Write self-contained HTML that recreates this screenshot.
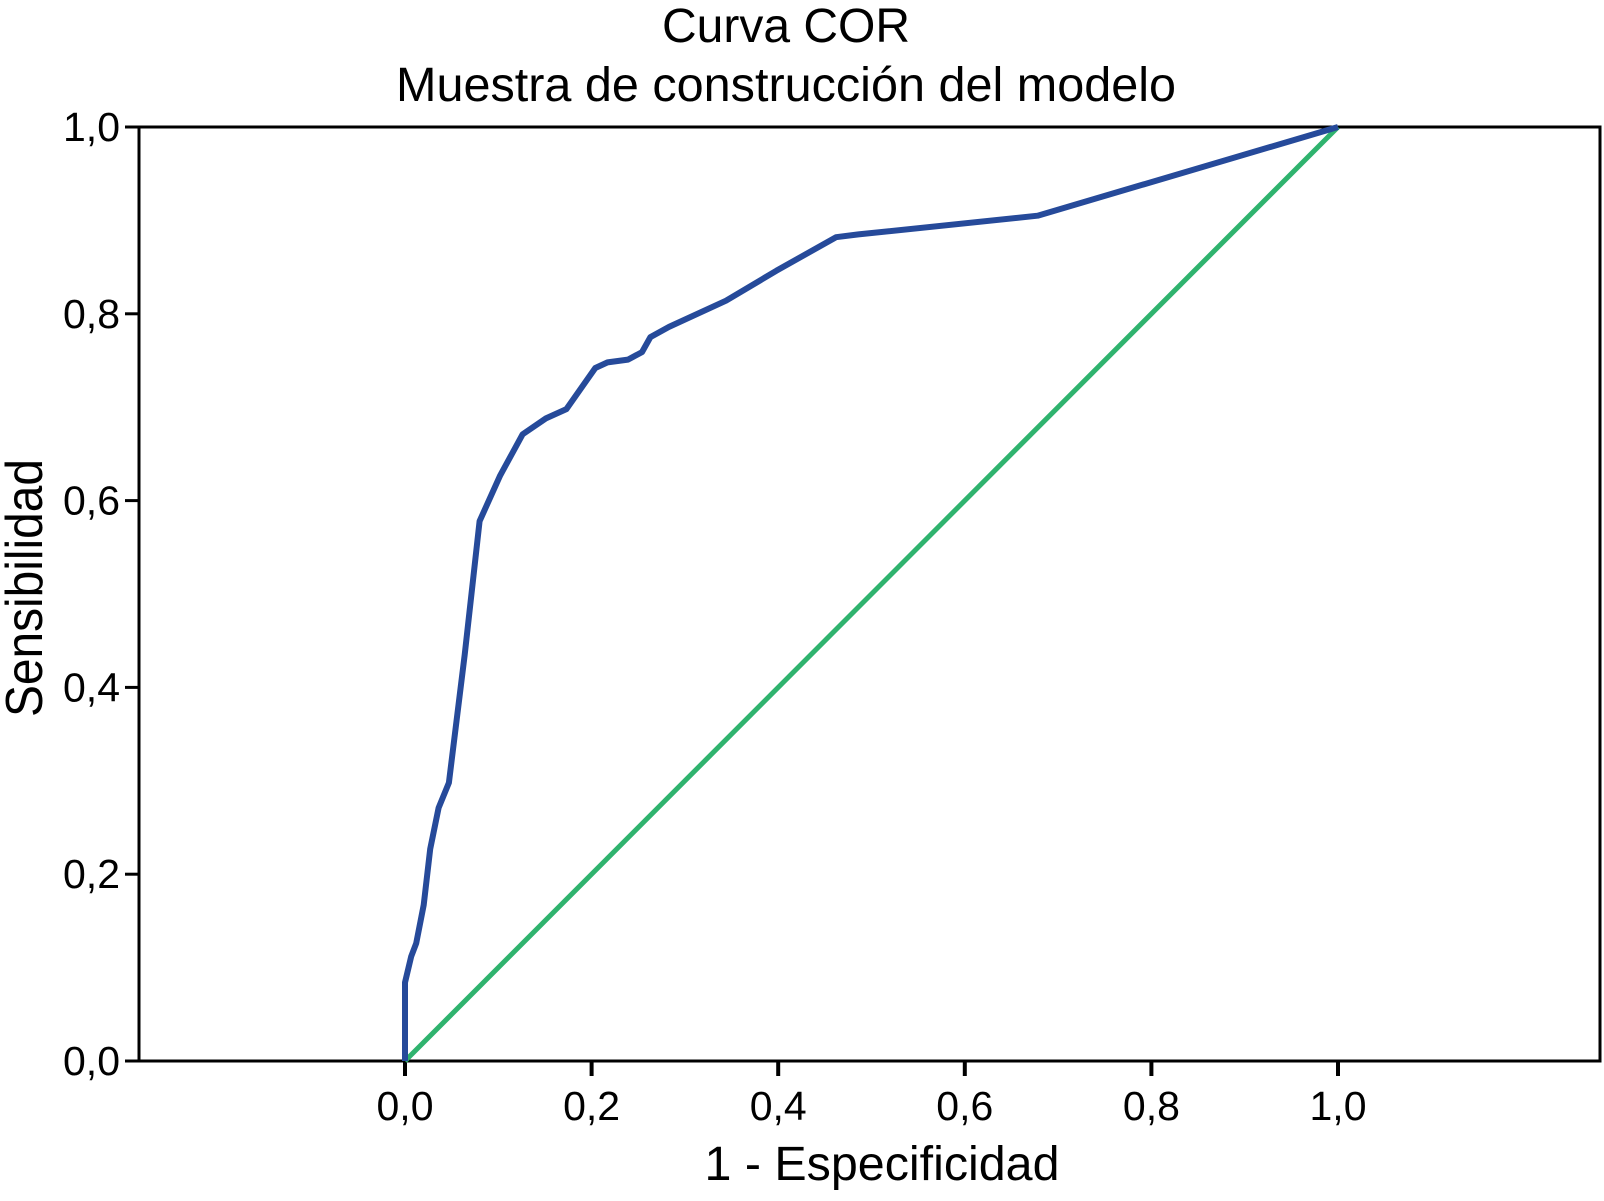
<!DOCTYPE html>
<html><head><meta charset="utf-8"><style>
html,body{margin:0;padding:0;background:#fff;}
svg{display:block;font-family:"Liberation Sans",Arial,sans-serif;}
</style></head><body>
<svg id="chart" width="1604" height="1201" viewBox="0 0 1604 1201">
<text x="786" y="42" font-size="48" text-anchor="middle">Curva COR</text>
<text x="786" y="101" font-size="48" text-anchor="middle" textLength="780" lengthAdjust="spacingAndGlyphs">Muestra de construcción del modelo</text>
<rect x="139" y="127" width="1461" height="934" fill="none" stroke="#000" stroke-width="3"/>
<g id="axes"></g>
<g id="series"></g>
<text x="882" y="1180" font-size="48" text-anchor="middle" textLength="355" lengthAdjust="spacingAndGlyphs">1 - Especificidad</text>
<text transform="translate(42,588) rotate(-90)" font-size="52" text-anchor="middle" textLength="258" lengthAdjust="spacingAndGlyphs">Sensibilidad</text>
</svg>
<script>
const tickValues = [0, 0.2, 0.4, 0.6, 0.8, 1.0];
const tickLabels = ["0,0", "0,2", "0,4", "0,6", "0,8", "1,0"];
const rocFpr = [0, 0, 0.0066, 0.012, 0.020, 0.027, 0.036, 0.047, 0.064, 0.080, 0.102, 0.126, 0.151, 0.173, 0.204, 0.217, 0.239, 0.254, 0.263, 0.283, 0.344, 0.398, 0.462, 0.486, 0.678, 1.0];
const rocTpr = [0, 0.084, 0.112, 0.126, 0.167, 0.227, 0.271, 0.298, 0.435, 0.578, 0.627, 0.671, 0.688, 0.698, 0.742, 0.748, 0.751, 0.759, 0.775, 0.786, 0.814, 0.846, 0.882, 0.885, 0.905, 1.0];
const refFpr = [0, 1];
const refTpr = [0, 1];

const NS = "http://www.w3.org/2000/svg";
const X0 = 405, X1 = 1338, Y0 = 1061, Y1 = 127;
function sx(v){ return X0 + v * (X1 - X0); }
function sy(v){ return Y0 - v * (Y0 - Y1); }
const axes = document.getElementById("axes");
const series = document.getElementById("series");

tickValues.forEach((v, i) => {
  const t = document.createElementNS(NS, "line");
  t.setAttribute("x1", 125); t.setAttribute("x2", 139);
  t.setAttribute("y1", sy(v)); t.setAttribute("y2", sy(v));
  t.setAttribute("stroke", "#000"); t.setAttribute("stroke-width", "3");
  
  
  axes.appendChild(t);
  const l = document.createElementNS(NS, "text");
  l.setAttribute("x", 120); l.setAttribute("y", sy(v) + 14);
  l.setAttribute("font-size", "41"); l.setAttribute("text-anchor", "end");
  l.textContent = tickLabels[i];
  
  
  axes.appendChild(l);
  const xt = document.createElementNS(NS, "line");
  xt.setAttribute("x1", sx(v)); xt.setAttribute("x2", sx(v));
  xt.setAttribute("y1", 1061); xt.setAttribute("y2", 1076);
  xt.setAttribute("stroke", "#000"); xt.setAttribute("stroke-width", "4");
  
  
  axes.appendChild(xt);
  const xl = document.createElementNS(NS, "text");
  xl.setAttribute("x", sx(v)); xl.setAttribute("y", 1120);
  xl.setAttribute("font-size", "41"); xl.setAttribute("text-anchor", "middle");
  xl.textContent = tickLabels[i];
  
  
  axes.appendChild(xl);
});

function pathFrom(xs, ys){
  return xs.map((x, i) => (i ? "L" : "M") + sx(x).toFixed(1) + "," + sy(ys[i]).toFixed(1)).join(" ");
}
const ref = document.createElementNS(NS, "path");
ref.setAttribute("d", pathFrom(refFpr, refTpr));
ref.setAttribute("stroke", "#2fb36e"); ref.setAttribute("stroke-width", "5"); ref.setAttribute("fill", "none");


series.appendChild(ref);
const roc = document.createElementNS(NS, "path");
roc.setAttribute("d", pathFrom(rocFpr, rocTpr));
roc.setAttribute("stroke", "#264a9a"); roc.setAttribute("stroke-width", "6"); roc.setAttribute("fill", "none");
roc.setAttribute("stroke-linejoin", "round");


series.appendChild(roc);
</script>
</body></html>
